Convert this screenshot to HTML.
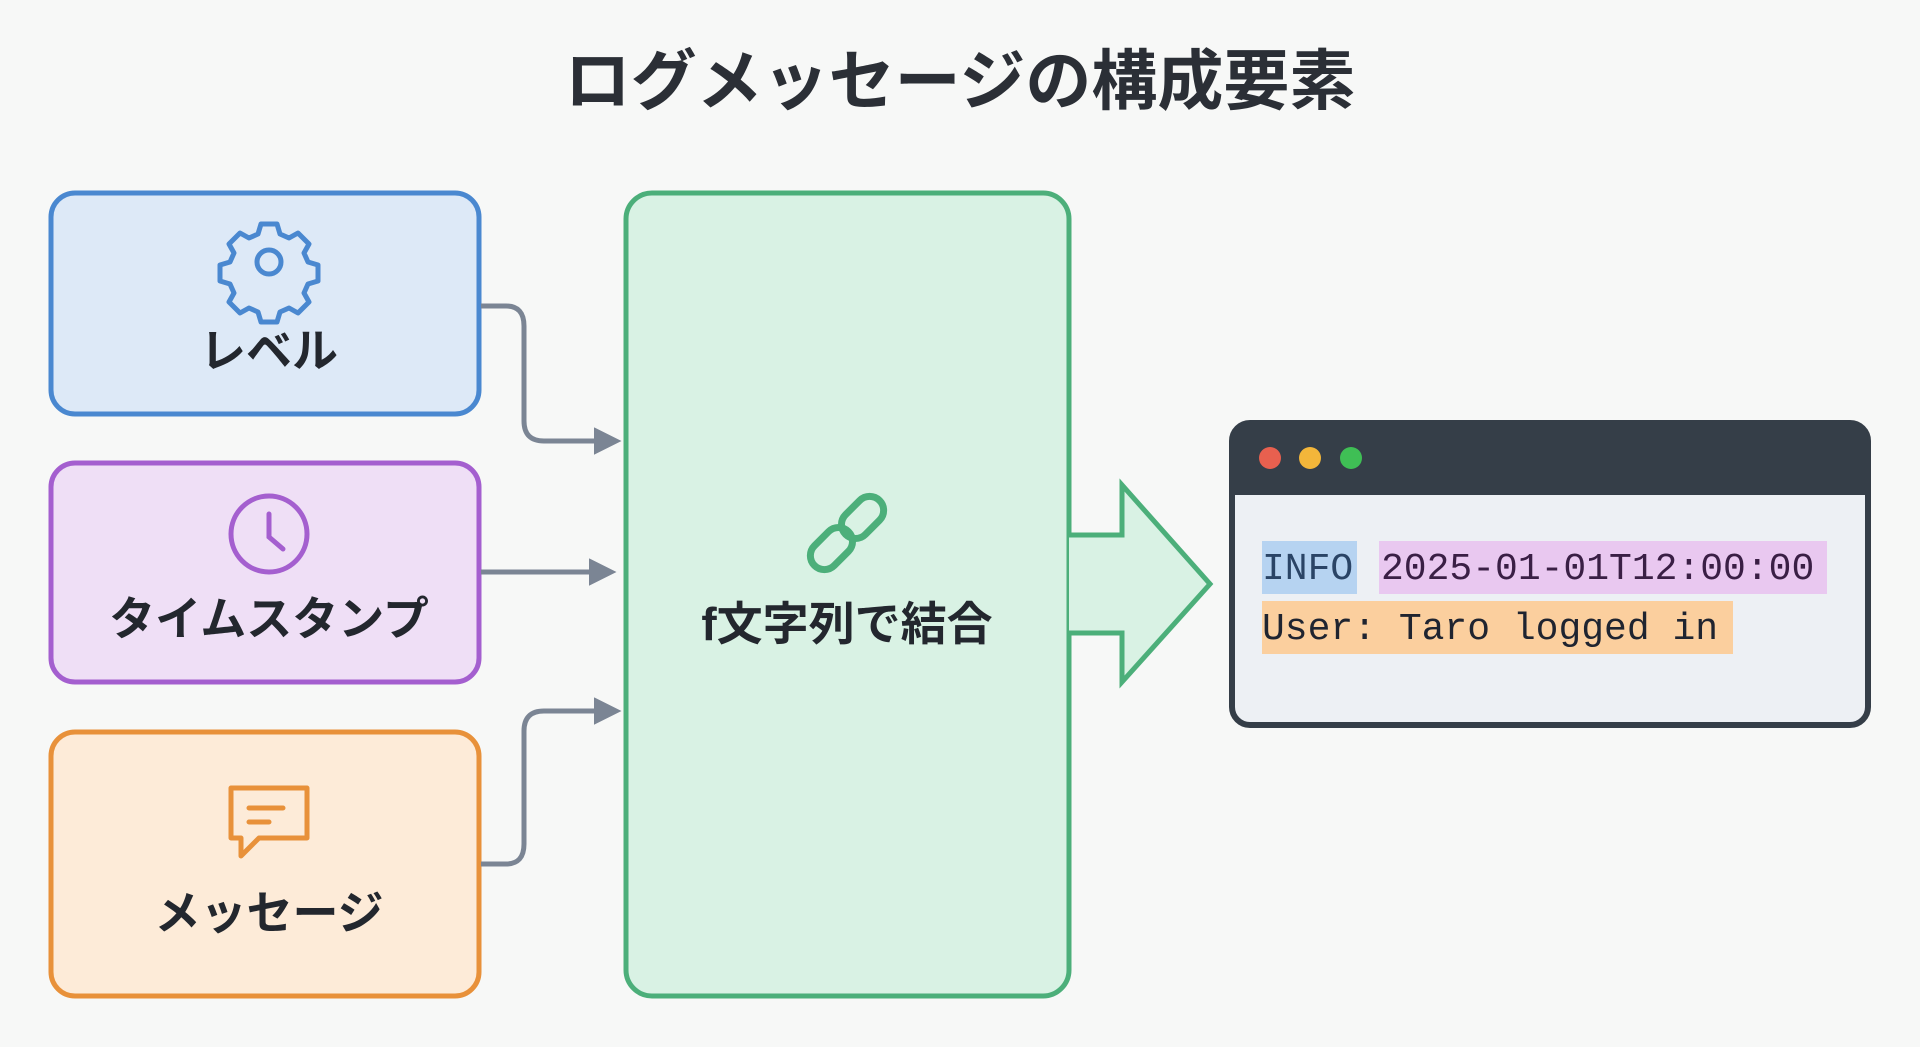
<!DOCTYPE html>
<html><head><meta charset="utf-8"><style>
body{margin:0;width:1920px;height:1047px;background:#f7f8f7;overflow:hidden;font-family:"Liberation Sans","Noto Sans CJK JP",sans-serif;}
.t{position:absolute;left:0;width:1920px;text-align:center;}
.lbl{position:absolute;font-weight:bold;color:#23272e;font-size:46px;text-align:center;transform:translate(-50%,-50%);white-space:nowrap;}
.mono{position:absolute;font-family:"Liberation Mono",monospace;font-size:38px;line-height:53px;color:#1f2430;white-space:pre;}
</style></head><body>
<div class="t" style="top:28px;font-size:66px;font-weight:bold;color:#2b2f36;">ログメッセージの構成要素</div>
<svg width="1920" height="1047" style="position:absolute;left:0;top:0">
<defs><marker id="a" viewBox="0 0 10 10" refX="8" refY="5" markerWidth="5.5" markerHeight="5.5" orient="auto"><path d="M0,0L10,5L0,10z" fill="#7b8594"/></marker></defs>
<rect x="51" y="193" width="428" height="221" rx="24" fill="#dde9f7" stroke="#4a88d0" stroke-width="5"/>
<rect x="51" y="463" width="428" height="219" rx="24" fill="#efdff6" stroke="#a45fcf" stroke-width="5"/>
<rect x="51" y="732" width="428" height="264" rx="24" fill="#fdebd8" stroke="#e8913a" stroke-width="5"/>
<rect x="626" y="193" width="443" height="803" rx="26" fill="#d9f2e4" stroke="#4caf7a" stroke-width="5"/>
<g fill="none" stroke="#7b8594" stroke-width="5">
<path d="M481,306 h25 q18,0 18,20 v95 q0,20 20,20 h72" marker-end="url(#a)"/>
<path d="M481,572 h130" marker-end="url(#a)"/>
<path d="M481,864 h25 q18,0 18,-20 v-113 q0,-20 20,-20 h72" marker-end="url(#a)"/>
</g>
<path d="M1069,535 H1122 V485 L1210,584 L1122,682 V633 H1069" fill="#d9f2e4" stroke="#4caf7a" stroke-width="5" stroke-linejoin="miter"/>
<g transform="translate(269,262)" fill="none" stroke="#4a88d0" stroke-width="5">
<path d="M-8,-38 h16 l3,10 l9,4 l9,-5 l11,11 l-5,9 l4,9 l10,3 v16 l-10,3 l-4,9 l5,9 l-11,11 l-9,-5 l-9,4 l-3,10 h-16 l-3,-10 l-9,-4 l-9,5 l-11,-11 l5,-9 l-4,-9 l-10,-3 v-16 l10,-3 l4,-9 l-5,-9 l11,-11 l9,5 l9,-4z" stroke-linejoin="round"/>
<circle r="12"/></g>
<g transform="translate(269,534)" fill="none" stroke="#a45fcf" stroke-width="5"><circle r="38"/><path d="M0,-20 V3 L14,15" stroke-linecap="round"/></g>
<g transform="translate(269,818)" fill="none" stroke="#e8913a" stroke-width="5" stroke-linejoin="round"><path d="M-38,-30 h76 v50 h-48 l-18,18 v-18 h-10z"/><path d="M-20,-10 h34 M-20,4 h20" stroke-linecap="round"/></g>
<g transform="translate(847,533) rotate(-45)" fill="none" stroke="#4caf7a" stroke-width="7"><rect x="-46" y="-14" width="48" height="28" rx="14"/><rect x="-2" y="-14" width="48" height="28" rx="14"/></g>
<rect x="1232" y="423" width="636" height="302" rx="18" fill="#edf0f4" stroke="#353e48" stroke-width="6"/>
<path d="M1232,495 V441 q0,-18 18,-18 H1850 q18,0 18,18 V495z" fill="#353e48"/>
<circle cx="1270" cy="458" r="11" fill="#e8604f"/><circle cx="1310" cy="458" r="11" fill="#f3b63a"/><circle cx="1351" cy="458" r="11" fill="#3fbf55"/>
<rect x="1262" y="541" width="95" height="53" fill="#b6d3f1"/>
<rect x="1379" y="541" width="448" height="53" fill="#e9c8f0"/>
<rect x="1262" y="601" width="471" height="53" fill="#fbcf9e"/>
</svg>
<div class="lbl" style="left:269px;top:348px">レベル</div>
<div class="lbl" style="left:269px;top:616px">タイムスタンプ</div>
<div class="lbl" style="left:269px;top:910px">メッセージ</div>
<div class="lbl" style="left:847px;top:621px">f文字列で結合</div>
<div class="mono" style="left:1262px;top:543px;color:#2a4466">INFO</div>
<div class="mono" style="left:1381px;top:543px;color:#3a1f45">2025-01-01T12:00:00</div>
<div class="mono" style="left:1262px;top:603px">User: Taro logged in</div>
</body></html>
